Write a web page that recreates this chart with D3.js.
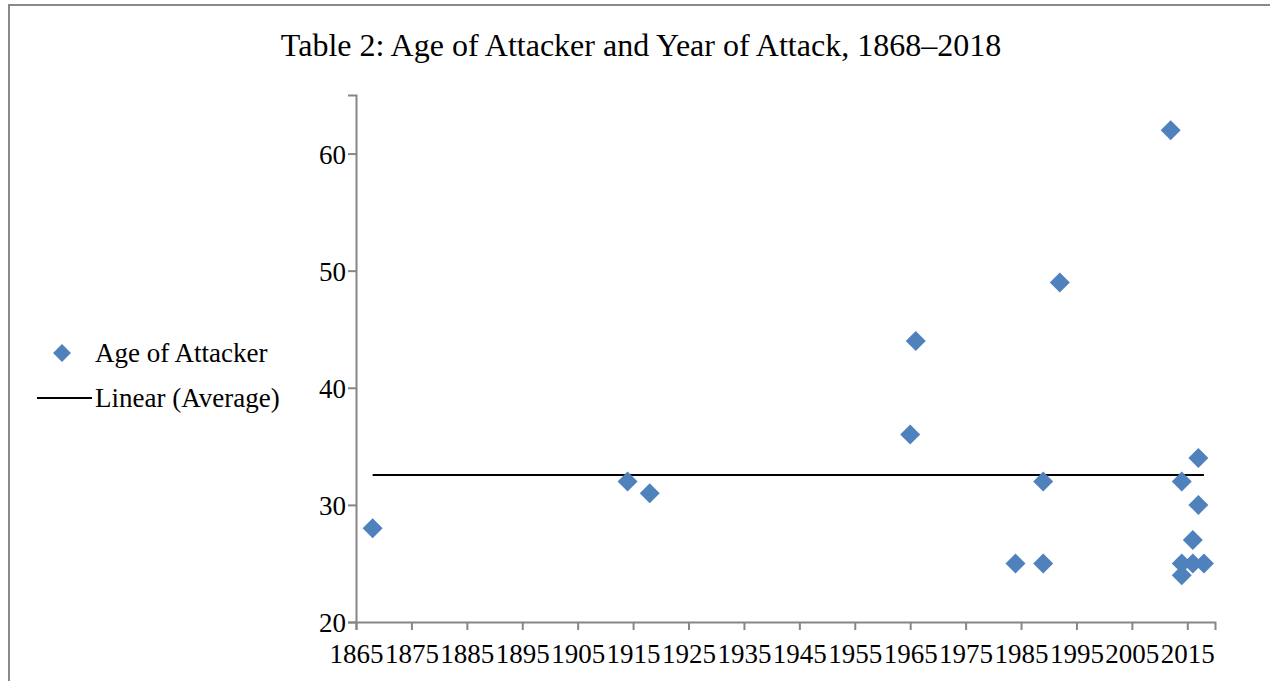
<!DOCTYPE html>
<html>
<head>
<meta charset="utf-8">
<script src="https://cdn.jsdelivr.net/npm/d3@7"></script>
<style>
  html, body { margin: 0; padding: 0; background: #fff; }
  svg { display: block; font-family: "Liberation Serif", "Times New Roman", serif; }
</style>
</head>
<body>
<svg id="chart" width="1270" height="681"></svg>
<script>
const titleText = "Table 2: Age of Attacker and Year of Attack, 1868\u20132018";
const years = [1868, 1914, 1918, 1965, 1966, 1984, 1989, 1989, 1992, 2012, 2014, 2014, 2014, 2016, 2016, 2017, 2017, 2018];
const ages  = [28,   32,   31,   36,   44,   25,   25,   32,   49,   62,   32,   25,   24,   27,   25,   34,   30,   25];
const xTicks = [1865, 1875, 1885, 1895, 1905, 1915, 1925, 1935, 1945, 1955, 1965, 1975, 1985, 1995, 2005, 2015];
const yTicks = [20, 30, 40, 50, 60];
const legendLabels = ["Age of Attacker", "Linear (Average)"];

const svg = d3.select("#chart");
const W = 1270, H = 681;
const plot = { left: 356, right: 1215, top: 95, bottom: 622 };
const blue = "#4F81BD";
const axisGray = "#868686";
const serif = "Liberation Serif, Times New Roman, serif";

// chart border
svg.append("rect").attr("x", 9).attr("y", 5).attr("width", W + 10).attr("height", H + 10)
  .attr("fill", "none").attr("stroke", "#898989").attr("stroke-width", 2);

const x = d3.scaleLinear().domain([1865, 2020]).range([plot.left, plot.right]);
const y = d3.scaleLinear().domain([20, 65]).range([plot.bottom, plot.top]);

// title
svg.append("text").attr("x", 641).attr("y", 56).attr("text-anchor", "middle")
  .attr("font-size", 32).attr("fill", "#000").text(titleText);

// axes
const xAxis = svg.append("g").attr("transform", `translate(0,${plot.bottom})`)
  .call(d3.axisBottom(x).tickValues(xTicks).tickFormat(d3.format("d")).tickSizeOuter(0).tickSize(8).tickPadding(6));
const yAxis = svg.append("g").attr("transform", `translate(${plot.left},0)`)
  .call(d3.axisLeft(y).tickValues(yTicks).tickSizeOuter(0).tickSize(8).tickPadding(2));
[xAxis, yAxis].forEach(g => {
  g.attr("font-family", serif).attr("font-size", 27);
  g.select(".domain").attr("stroke", axisGray).attr("stroke-width", 2);
  g.selectAll(".tick line").attr("stroke", axisGray).attr("stroke-width", 2);
  g.selectAll(".tick text").attr("fill", "#000");
});
xAxis.selectAll(".tick text").attr("dy", "1.0em");
yAxis.selectAll(".tick text").attr("dy", "0.35em");

// average line (linear trend of mean)
const avg = d3.mean(ages);
const ext = d3.extent(years);
svg.append("line")
  .attr("x1", x(ext[0])).attr("x2", x(ext[1]))
  .attr("y1", y(avg)).attr("y2", y(avg))
  .attr("stroke", "#000").attr("stroke-width", 2);

// points
const diamond = d3.symbol().type(d3.symbolSquare).size(200);
svg.append("g").selectAll("path").data(years.map((yr, i) => ({ yr, age: ages[i] })))
  .join("path")
  .attr("d", diamond)
  .attr("transform", d => `translate(${x(d.yr)},${y(d.age)}) rotate(45)`)
  .attr("fill", blue);

// legend
const lg = svg.append("g").attr("font-size", 27);
lg.append("path").attr("d", d3.symbol().type(d3.symbolSquare).size(160))
  .attr("transform", "translate(62,353) rotate(45)").attr("fill", blue);
lg.append("text").attr("x", 95).attr("y", 362).text(legendLabels[0]);
lg.append("line").attr("x1", 37).attr("x2", 92).attr("y1", 398).attr("y2", 398)
  .attr("stroke", "#000").attr("stroke-width", 2);
lg.append("text").attr("x", 95).attr("y", 407).text(legendLabels[1]);
</script>
</body>
</html>
